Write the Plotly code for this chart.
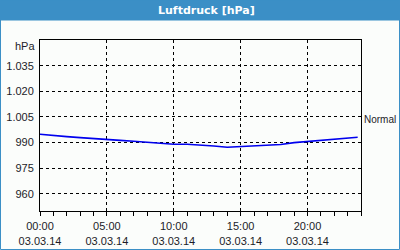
import plotly.graph_objects as go

# Data (hourly readings, 03.03.14)
times = ["2014-03-03 %02d:00" % h for h in range(24)] + ["2014-03-03 23:45"]
pressure = [994.9, 994.0, 993.5, 992.9, 992.5, 991.9, 991.3, 990.8, 990.1, 989.6,
            989.0, 989.0, 988.6, 988.0, 987.3, 987.8, 987.9, 988.4, 988.9, 990.0,
            990.7, 991.5, 992.2, 992.6, 993.1]
y_ticks = [960, 975, 990, 1005, 1020, 1035]
y_ticklabels = ["960", "975", "990", "1.005", "1.020", "1.035"]
title_text = "Luftdruck [hPa]"
unit_text = "hPa"
normal_text = "Normal"

W, H = 400, 250
L, R, T, B = 40, 39, 40, 39
pw, ph = W - L - R, H - T - B

def px(x):
    return (x - L) / pw

def py(y):
    return (H - B - y) / ph

blue = "#3b8fc6"
bg = "#fbfdfb"
txt = "#1c1c28"
font = "Liberation Sans"

fig = go.Figure()
fig.add_trace(go.Scatter(x=times, y=pressure, mode="lines",
                         line=dict(color="#0000ee", width=1.6),
                         hoverinfo="skip", showlegend=False))

fig.update_layout(
    width=W, height=H,
    margin=dict(l=L, r=R, t=T, b=B),
    paper_bgcolor=bg, plot_bgcolor=bg,
    font=dict(family=font, size=11, color=txt),
    xaxis=dict(
        type="date", automargin=False,
        range=["2014-03-03 00:00", "2014-03-04 00:00"],
        tick0="2014-03-03 00:00", dtick=5 * 3600000,
        tickformat="%H:%M<br>%d.%m.%y",
        ticks="outside", ticklen=4, tickcolor="black", tickwidth=1,
        ticklabelstandoff=1,
        minor=dict(dtick=3600000, ticks="outside", ticklen=4, tickcolor="black", showgrid=False),
        showgrid=True, gridcolor="black", griddash="3px,3px", gridwidth=1,
        showline=True, linecolor="black", linewidth=1, mirror=True,
        zeroline=False, fixedrange=True,
    ),
    yaxis=dict(
        range=[950, 1050], automargin=False,
        tickvals=y_ticks, ticktext=y_ticklabels,
        ticks="", ticklabelstandoff=3,
        showgrid=True, gridcolor="black", griddash="3px,3px", gridwidth=1,
        showline=True, linecolor="black", linewidth=1, mirror=True,
        zeroline=False, fixedrange=True,
    ),
    shapes=[
        dict(type="rect", xref="paper", yref="paper",
             x0=px(0), x1=px(W), y0=py(0), y1=py(20.5),
             fillcolor=blue, line=dict(width=0), layer="below"),
        dict(type="rect", xref="paper", yref="paper",
             x0=px(0.5), x1=px(W - 0.5), y0=py(0), y1=py(H - 0.5),
             fillcolor="rgba(0,0,0,0)", line=dict(color=blue, width=1)),
    ],
    annotations=[
        dict(text="<b>" + title_text + "</b>", xref="paper", yref="paper",
             x=px(W / 2 + 7), y=py(10.5), xanchor="center", yanchor="middle",
             showarrow=False, font=dict(family="DejaVu Sans", size=11, color="white")),
        dict(text=unit_text, xref="paper", yref="paper",
             x=px(37), y=py(46), xanchor="right", yanchor="middle",
             showarrow=False, font=dict(family=font, size=11, color=txt)),
        dict(text=normal_text, xref="paper", yref="paper",
             x=px(362), y=py(119), xanchor="left", yanchor="middle",
             showarrow=False, font=dict(family=font, size=10, color=txt)),
    ],
)

fig.write_html("out.html")
